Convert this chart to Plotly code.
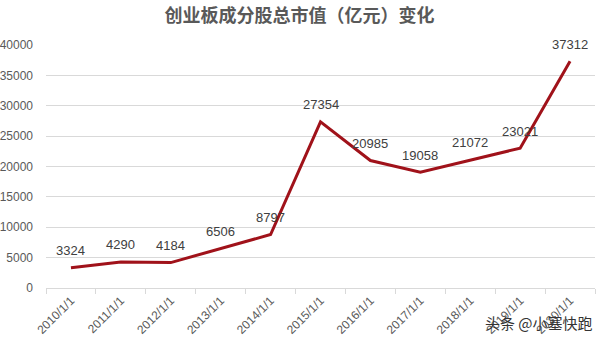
import plotly.graph_objects as go

categories = ["2010/1/1", "2011/1/1", "2012/1/1", "2013/1/1", "2014/1/1", "2015/1/1",
              "2016/1/1", "2017/1/1", "2018/1/1", "2019/1/1", "2020/1/1"]
values = [3324, 4290, 4184, 6506, 8797, 27354, 20985, 19058, 21072, 23021, 37312]
y_ticks = [0, 5000, 10000, 15000, 20000, 25000, 30000, 35000, 40000]
title_text = "创业板成分股总市值（亿元）变化"
watermark = "头条 @小塞快跑"

fig = go.Figure()
fig.add_trace(go.Scatter(
    x=categories, y=values, mode="lines",
    line=dict(color="#a0121a", width=3),
    hoverinfo="skip",
))

for c, v in zip(categories, values):
    fig.add_annotation(x=c, y=v, text=str(v), showarrow=False, yshift=17,
                       xanchor="center", yanchor="middle",
                       font=dict(family="Liberation Sans, Open Sans, sans-serif", size=13, color="#404040"))

fig.update_layout(
    width=599, height=343,
    margin=dict(l=46, r=4, t=45, b=55),
    paper_bgcolor="white", plot_bgcolor="white",
    showlegend=False,
    title=dict(text="<b>" + title_text + "</b>", x=0.5, xanchor="center", y=0.955, yanchor="middle",
               font=dict(family="Noto Sans CJK SC", size=18, color="#595959")),
    xaxis=dict(type="category", showgrid=False, showline=True, linecolor="#d9d9d9",
               ticks="outside", tickson="boundaries", ticklen=5, tickcolor="#d9d9d9",
               tickangle=-45, tickfont=dict(family="Liberation Sans, sans-serif", size=12, color="#595959"),
               automargin=False, range=[-0.5, 10.5]),
    yaxis=dict(range=[0, 40000], tickvals=y_ticks, ticktext=[str(t) for t in y_ticks],
               showgrid=True, gridcolor="#d9d9d9",
               zeroline=False, showline=False,
               tickfont=dict(family="Liberation Sans, sans-serif", size=12, color="#595959"),
               automargin=False, ticklabelstandoff=12),
)

fig.add_annotation(text=watermark, xref="paper", yref="paper", x=1.0, y=-0.14,
                   xanchor="right", yanchor="middle", showarrow=False,
                   font=dict(family="Noto Sans CJK SC", size=15, color="#333333"))

fig.write_html("out.html")
